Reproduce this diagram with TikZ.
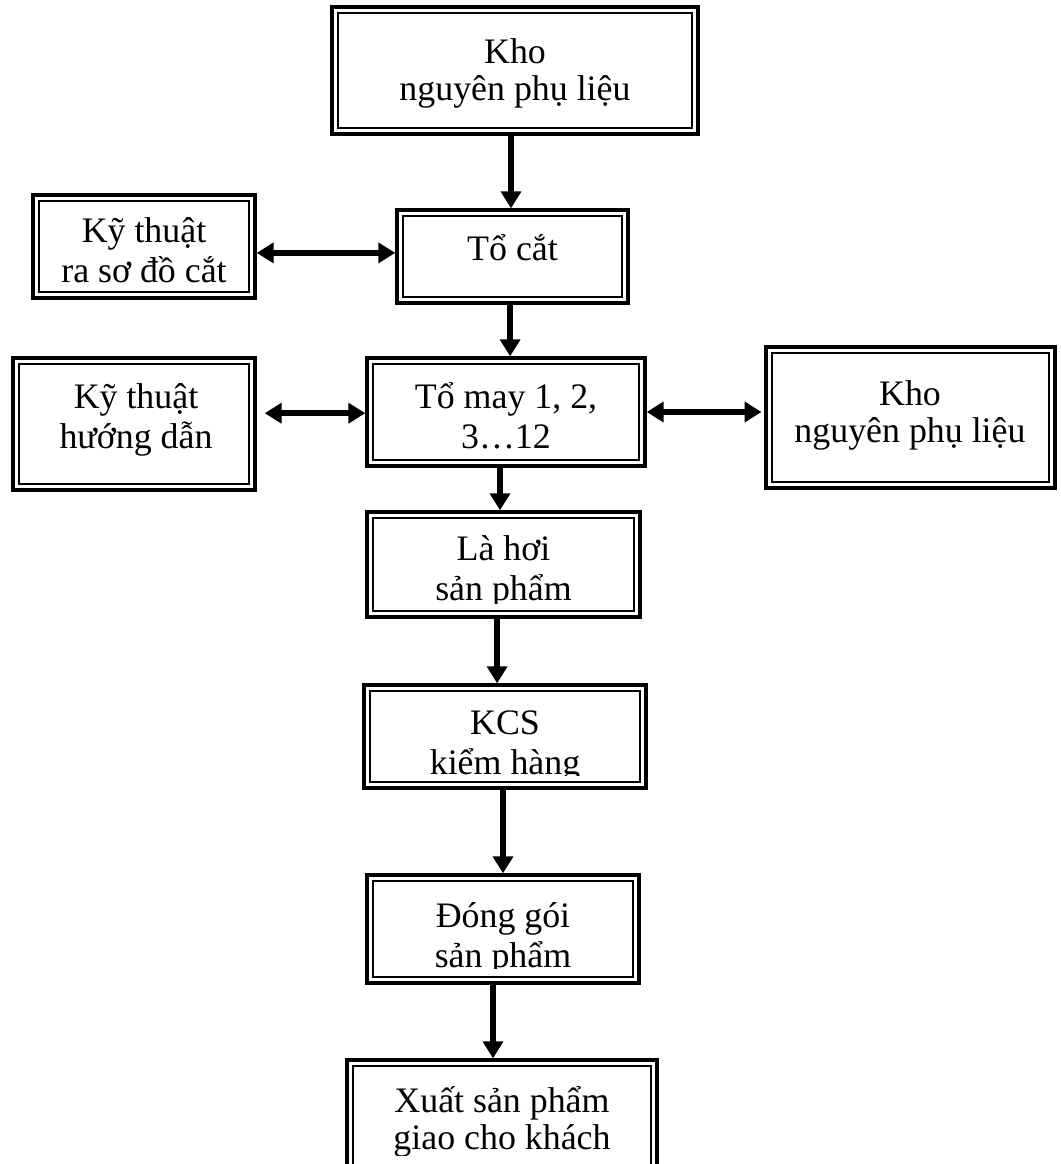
\documentclass[tikz,border=0pt]{standalone}
\usepackage{fontspec}
\setmainfont{Liberation Serif}
\usetikzlibrary{arrows.meta,fit}

\tikzset{
  stage/.style={draw, line width=2.4pt, inner sep=0pt},
  lbl/.style={inner sep=0pt, anchor=base},
  tight/.style={font=\fontsize{25.5}{26.5}\selectfont},
  flow/.style={line width=4.4pt, -{Triangle[length=12pt,width=14pt]}},
  twoway/.style={line width=4.4pt, {Triangle[length=12pt,width=14pt]}-{Triangle[length=12pt,width=14pt]}}
}
\newcommand{\rows}[2]{\begin{tabular}[t]{@{}c@{}}#1\\#2\end{tabular}}

\begin{document}
\begin{tikzpicture}[x=0.025cm,y=-0.025cm,font=\fontsize{25.5}{29}\selectfont]
\clip (0,0) rectangle (1060,1164);
% boxes
\node[stage, fit={(332,7) (698,134)}] (kho) {};
\node[stage, fit={(33,195) (255,298)}] (kt1) {};
\node[stage, fit={(397,210) (628,303)}] (tocat) {};
\node[stage, fit={(367,358) (645,466)}] (tomay) {};
\node[stage, fit={(13,358) (255,490)}] (kt2) {};
\node[stage, fit={(766,347) (1055,488)}] (kho2) {};
\node[stage, fit={(367,512) (640,617)}] (lahoi) {};
\node[stage, fit={(364,685) (646,788)}] (kcs) {};
\node[stage, fit={(367,875) (639,983)}] (donggoi) {};
\node[stage, fit={(347,1060) (657,1210)}] (xuat) {};
\foreach \b in {kho,kt1,tocat,tomay,kt2,kho2,lahoi,kcs,donggoi,xuat}
  \draw[line width=1.3pt] ([shift={(0.2cm,0.2cm)}]\b.south west) rectangle ([shift={(-0.2cm,-0.2cm)}]\b.north east);
% texts
\node[lbl, tight] (kho-t) at (515,63) {\rows{Kho}{nguyên phụ liệu}};
\node[lbl] (kt1-t) at (144,242) {\rows{Kỹ thuật}{ra sơ đồ cắt}};
\node[lbl] (tocat-t) at (512.5,260) {Tổ cắt};
\node[lbl] (tomay-t) at (506,408) {\rows{Tổ may 1, 2,}{3…12}};
\node[lbl] (kt2-t) at (136,408) {\rows{Kỹ thuật}{hướng dẫn}};
\node[lbl, tight] (kho2-t) at (910,405) {\rows{Kho}{nguyên phụ liệu}};
\begin{scope}
\clip (360,520) rectangle (650,603);
\node[lbl] (lahoi-t) at (503.5,560) {\rows{Là hơi}{sản phẩm}};
\end{scope}
\begin{scope}
\clip (360,690) rectangle (650,775);
\node[lbl] (kcs-t) at (505,734) {\rows{KCS}{kiểm hàng}};
\end{scope}
\begin{scope}
\clip (360,880) rectangle (650,968);
\node[lbl] (donggoi-t) at (503,927) {\rows{Đóng gói}{sản phẩm}};
\end{scope}
\begin{scope}
\clip (350,1065) rectangle (655,1155);
\node[lbl, tight] (xuat-t) at (502,1112) {\rows{Xuất sản phẩm}{giao cho khách}};
\end{scope}
% connectors
\draw[flow] ([xshift=-0.1cm]kho.south) -- ([xshift=-0.1cm]kho.south |- tocat.north);
\draw[flow] ([xshift=-0.06cm]tocat.south) -- ([xshift=-0.06cm]tocat.south |- tomay.north);
\draw[flow] ([xshift=-0.15cm]tomay.south) -- ([xshift=-0.15cm]tomay.south |- lahoi.north);
\draw[flow] ([xshift=-0.16cm]lahoi.south) -- ([xshift=-0.16cm]lahoi.south |- kcs.north);
\draw[flow] ([xshift=-0.05cm]kcs.south) -- ([xshift=-0.05cm]kcs.south |- donggoi.north);
\draw[flow] ([xshift=-0.25cm]donggoi.south) -- ([xshift=-0.25cm]donggoi.south |- xuat.north);
\draw[twoway] ([yshift=-0.16cm]kt1.east) -- ([yshift=-0.16cm]kt1.east -| tocat.west);
\draw[twoway] ([xshift=0.2cm,yshift=0.27cm]kt2.east) -- ([yshift=0.27cm]kt2.east -| tomay.west);
\draw[twoway] (tomay.east) -- ([xshift=-0.07cm]tomay.east -| kho2.west);
\end{tikzpicture}
\end{document}
